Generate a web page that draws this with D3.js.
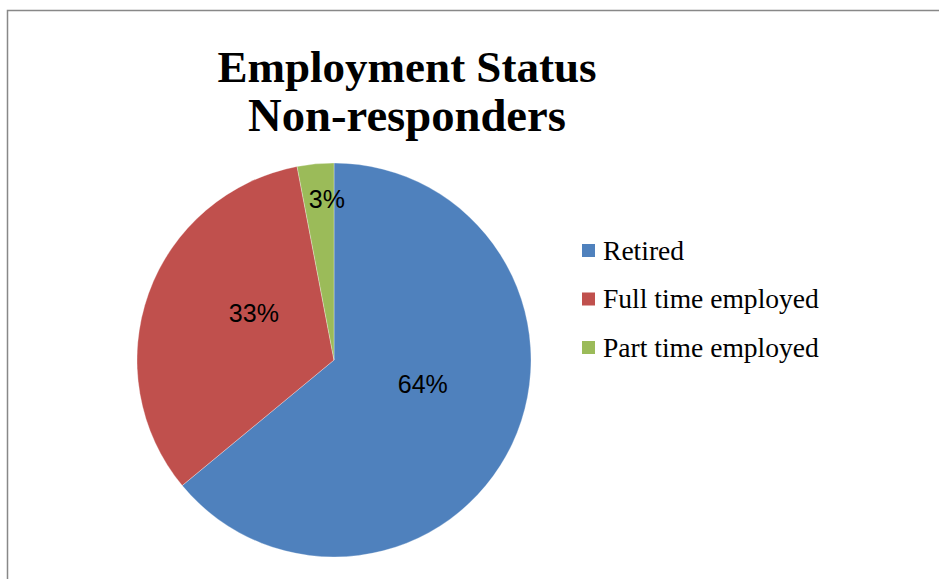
<!DOCTYPE html>
<html>
<head>
<meta charset="utf-8">
<script src="https://cdn.jsdelivr.net/npm/d3@7"></script>
<style>
html,body{margin:0;padding:0;background:#fff;}
svg{display:block;}
</style>
</head>
<body>
<svg id="chart" width="939" height="579"></svg>
<script>
// ---- data ----
const categories = ["Retired", "Full time employed", "Part time employed"];
const values = [64, 33, 3];
const labels = ["64%", "33%", "3%"];
const titleLines = ["Employment Status", "Non-responders"];

// ---- style ----
const colors = ["#4F81BD", "#C0504D", "#9BBB59"];
const cx = 334, cy = 360, R = 197;
const labelRadiusFrac = [0.47, 0.47, 0.82];
const labelNudge = [[5, -15], [7, -16], [8, 0]];
const serif = "'Liberation Serif', 'Times New Roman', serif";

const svg = d3.select("#chart");

// border
svg.append("rect")
  .attr("x", 7.5).attr("y", 10.5)
  .attr("width", 940).attr("height", 620)
  .attr("fill", "#fff")
  .attr("stroke", "#888").attr("stroke-width", 1.5);

function fit(sel, target) {
  const w = sel.node().getComputedTextLength();
  const fs = parseFloat(sel.attr("font-size"));
  sel.attr("font-size", fs * target / w);
}

// title
const titleWidths = [379, 318];
const titleBase = [82, 131];
titleLines.forEach((t, i) => {
  const s = svg.append("text")
    .attr("x", 407).attr("y", titleBase[i])
    .attr("text-anchor", "middle")
    .attr("font-family", serif)
    .attr("font-weight", "bold")
    .attr("font-size", 40)
    .attr("fill", "#000")
    .text(t);
  fit(s, titleWidths[i]);
});

// pie
const pie = d3.pie().sort(null).value(d => d)
  .startAngle(0).endAngle(2 * Math.PI);
const arcs = pie(values);
const arc = d3.arc().innerRadius(0).outerRadius(R);

const g = svg.append("g").attr("transform", `translate(${cx},${cy})`);
g.selectAll("path.slice").data(arcs).enter().append("path")
  .attr("class", "slice")
  .attr("d", arc)
  .attr("fill", (d, i) => colors[i])
  .attr("stroke", "#fff").attr("stroke-width", 0.5).attr("stroke-opacity", 0.6);

g.selectAll("text.lbl").data(arcs).enter().append("text")
  .attr("class", "lbl")
  .attr("transform", (d, i) => {
    const r = R * labelRadiusFrac[i];
    const c = d3.arc().innerRadius(r).outerRadius(r).centroid(d);
    return `translate(${c[0] + labelNudge[i][0]},${c[1] + labelNudge[i][1]})`;
  })
  .attr("text-anchor", "middle")
  .attr("dominant-baseline", "central")
  .attr("font-family", "'Liberation Sans', Arial, sans-serif")
  .attr("font-size", 25)
  .attr("fill", "#000")
  .text((d, i) => labels[i]);

// legend
const legY = d3.scalePoint().domain(categories).range([251, 348]);
const leg = svg.append("g");
categories.forEach((c, i) => {
  const y = legY(c);
  leg.append("rect")
    .attr("x", 582).attr("y", y - 7)
    .attr("width", 13).attr("height", 13)
    .attr("fill", colors[i]);
  leg.append("text")
    .attr("x", 603).attr("y", y + 8.5)
    .attr("font-family", serif)
    .attr("font-size", 22)
    .attr("fill", "#000")
    .text(c);
});
const ref = leg.selectAll("text").filter((d, i) => i === 1);
const w1 = ref.node().getComputedTextLength();
leg.selectAll("text").attr("font-size", 22 * 216 / w1);
</script>
</body>
</html>
